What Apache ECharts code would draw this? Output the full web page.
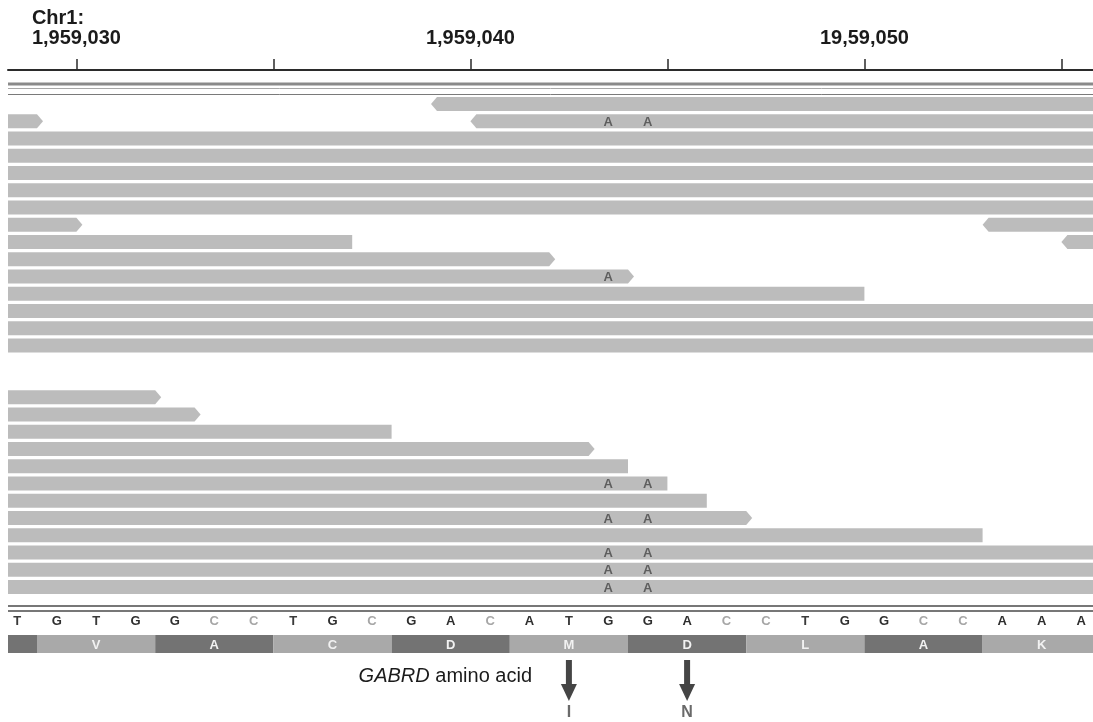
<!DOCTYPE html>
<html><head><meta charset="utf-8">
<script src="https://cdn.jsdelivr.net/npm/echarts@6/dist/echarts.min.js"></script>
<style>html,body{margin:0;padding:0;background:#fff}#c{width:1093px;height:722px}</style>
</head><body><div id="c"></div>
<script>
// ---------------- data ----------------
const chromName = 'Chr1:';
const tickPositions  = [1959030, 1959035, 1959040, 1959045, 1959050, 1959055];
const labelPositions = [1959030, 1959040, 1959050];
const tickLabels     = ['1,959,030', '1,959,040', '19,59,050'];

// aligned reads: row, start, end (genomic), strand ('+' fwd arrow, '-' rev arrow, '.' no visible end arrow)
const readRow    = [1, 2, 2, 3, 4, 5, 6, 7, 8, 8, 9, 9, 10, 11, 12, 13, 14, 15,
                    18, 19, 20, 21, 22, 23, 24, 25, 26, 27, 28, 29];
const readStart  = [1959039, 1959028, 1959040, 1959028, 1959028, 1959028, 1959028, 1959028,
                    1959028, 1959053, 1959028, 1959055, 1959028, 1959028, 1959028, 1959028, 1959028, 1959028,
                    1959028, 1959028, 1959028, 1959028, 1959028, 1959028, 1959028, 1959028, 1959028, 1959028, 1959028, 1959028];
const readEnd    = [1959056, 1959029, 1959056, 1959056, 1959056, 1959056, 1959056, 1959056,
                    1959030, 1959056, 1959037, 1959056, 1959042, 1959044, 1959050, 1959056, 1959056, 1959056,
                    1959032, 1959033, 1959038, 1959043, 1959044, 1959045, 1959046, 1959047, 1959053, 1959056, 1959056, 1959056];
const readStrand = ['-', '+', '-', '.', '.', '.', '.', '.',
                    '+', '-', '.', '-', '+', '+', '.', '.', '.', '.',
                    '+', '+', '.', '+', '.', '.', '.', '+', '.', '.', '.', '.'];

// mismatched bases in reads
const mismatchRow  = [2, 2, 11, 23, 23, 25, 25, 27, 27, 28, 28, 29, 29];
const mismatchPos  = [1959043, 1959044, 1959043, 1959043, 1959044, 1959043, 1959044,
                      1959043, 1959044, 1959043, 1959044, 1959043, 1959044];
const mismatchBase = ['A', 'A', 'A', 'A', 'A', 'A', 'A', 'A', 'A', 'A', 'A', 'A', 'A'];

// reference sequence
const refStart = 1959028;
const refBases = ['T','G','T','G','G','C','C','T','G','C','G','A','C','A','T','G','G','A','C','C','T','G','G','C','C','A','A','A'];

// translated codons (3 bp each)
const codonStart = 1959026;
const aminoAcids = ['', 'V', 'A', 'C', 'D', 'M', 'D', 'L', 'A', 'K'];

// amino-acid changes
const aaChangePos = [1959042.5, 1959045.5];
const aaChangeTo  = ['I', 'N'];
const geneLabel = 'GABRD';

// ---------------- layout / style ----------------
const X_MIN = 1959028.264, X_MAX = 1959055.802;
const READ_H = 14, READ_COLOR = '#bcbcbc', ARROW = 6;
const FONT = '"Liberation Sans", Arial, Helvetica, sans-serif';

const chart = echarts.init(document.getElementById('c'), null, {renderer: 'canvas'});

function renderRead(params, api) {
  const i = params.dataIndex;
  const strand = readStrand[i];
  const row = api.value(2);
  const p0 = api.coord([api.value(0), row]);
  const p1 = api.coord([api.value(1), row]);
  const cs = params.coordSys;
  const L = cs.x, R = cs.x + cs.width;
  const y = p0[1], t = y - READ_H / 2, b = y + READ_H / 2;
  const x0 = p0[0], x1 = p1[0];
  const pts = [];
  const leftArrow = strand === '-' && x0 >= L;
  const rightArrow = strand === '+' && x1 + ARROW <= R;
  if (leftArrow) { pts.push([x0, y], [x0 + ARROW, t]); } else { pts.push([Math.max(x0, L), t]); }
  if (rightArrow) { pts.push([x1, t], [x1 + ARROW, y], [x1, b]); }
  else { pts.push([Math.min(x1, R), t], [Math.min(x1, R), b]); }
  pts.push([leftArrow ? x0 + ARROW : Math.max(x0, L), b]);
  return {type: 'polygon', shape: {points: pts}, style: {fill: READ_COLOR}};
}

const BASE_COLOR = {A: '#2e2e2e', G: '#2e2e2e', T: '#3a3a3a', C: '#a6a6a6'};

const option = {
  animation: false,
  backgroundColor: '#ffffff',
  grid: [
    {left: 8, right: 0, top: 70, height: 534},
    {left: 8, right: 0, top: 604, height: 118}
  ],
  xAxis: [
    {
      gridIndex: 0, type: 'value', position: 'top', min: X_MIN, max: X_MAX,
      axisLine: {show: true, onZero: false, lineStyle: {color: '#2b2b2b', width: 2}},
      axisTick: {show: true, customValues: tickPositions, length: 11, lineStyle: {color: '#2b2b2b', width: 1.5}},
      axisLabel: {
        show: true, customValues: labelPositions, margin: 22,
        formatter: function (v) {
          const k = labelPositions.indexOf(Math.round(v));
          return k === 0 ? '{c|' + chromName + '}\n' + tickLabels[k] : tickLabels[k];
        },
        color: '#1b1b1b', fontSize: 20, fontWeight: 'bold', fontFamily: FONT, lineHeight: 20,
        rich: {c: {align: 'left', color: '#1b1b1b', fontSize: 20, fontWeight: 'bold', fontFamily: FONT, lineHeight: 20}}
      },
      splitLine: {show: false}
    },
    {gridIndex: 1, type: 'value', min: X_MIN, max: X_MAX, show: false}
  ],
  yAxis: [
    {gridIndex: 0, type: 'value', inverse: true, min: -0.971, max: 29.986, show: false},
    {gridIndex: 1, type: 'value', inverse: true, min: 0, max: 118, show: false}
  ],
  graphic: [
    {type: 'rect', shape: {x: 8, y: 82.5, width: 1085, height: 3}, style: {fill: '#8a8a8a'}, silent: true},
    {type: 'line', shape: {x1: 8, y1: 88.5, x2: 1093, y2: 88.5}, style: {stroke: '#a8a8a8', lineWidth: 1}, silent: true},
    {type: 'line', shape: {x1: 8, y1: 94.5, x2: 1093, y2: 94.5}, style: {stroke: '#7a7a7a', lineWidth: 1}, silent: true},
    {type: 'line', shape: {x1: 8, y1: 606, x2: 1093, y2: 606}, style: {stroke: '#4a4a4a', lineWidth: 1.5}, silent: true},
    {type: 'line', shape: {x1: 8, y1: 611, x2: 1093, y2: 611}, style: {stroke: '#4a4a4a', lineWidth: 1.5}, silent: true},
    {type: 'text', x: 532, y: 676, silent: true,
     style: {text: '{i|' + geneLabel + '} amino acid', align: 'right', verticalAlign: 'middle',
             fill: '#1b1b1b', font: '20px ' + FONT,
             rich: {i: {fontStyle: 'italic', fontSize: 20, fontFamily: FONT, fill: '#1b1b1b'}}}}
  ],
  series: [
    {
      type: 'custom', xAxisIndex: 0, yAxisIndex: 0, silent: true,
      data: readRow.map((r, i) => [readStart[i], readEnd[i], r]),
      encode: {x: [0, 1], y: 2},
      renderItem: renderRead
    },
    {
      type: 'custom', xAxisIndex: 0, yAxisIndex: 0, silent: true,
      data: mismatchRow.map((r, i) => [mismatchPos[i] + 0.5, r]),
      encode: {x: 0, y: 1},
      renderItem: function (params, api) {
        const p = api.coord([api.value(0), api.value(1)]);
        return {type: 'text', x: p[0], y: p[1] + 1,
          style: {text: mismatchBase[params.dataIndex], fill: '#5e5e5e', font: 'bold 13px ' + FONT,
                  align: 'center', verticalAlign: 'middle'}};
      }
    },
    {
      type: 'custom', xAxisIndex: 1, yAxisIndex: 1, silent: true,
      data: refBases.map((b, i) => [refStart + i + 0.5, 17]),
      encode: {x: 0, y: 1},
      renderItem: function (params, api) {
        const p = api.coord([api.value(0), api.value(1)]);
        const b = refBases[params.dataIndex];
        return {type: 'text', x: p[0], y: p[1],
          style: {text: b, fill: BASE_COLOR[b], font: 'bold 13px ' + FONT, align: 'center', verticalAlign: 'middle'}};
      }
    },
    {
      type: 'custom', xAxisIndex: 1, yAxisIndex: 1, silent: true,
      data: aminoAcids.map((a, i) => [codonStart + 3 * i, codonStart + 3 * i + 3]),
      encode: {x: [0, 1]},
      renderItem: function (params, api) {
        const i = params.dataIndex;
        const p0 = api.coord([api.value(0), 31]);
        const p1 = api.coord([api.value(1), 49]);
        const cs = params.coordSys;
        const rect = echarts.graphic.clipRectByRect(
          {x: p0[0], y: p0[1], width: p1[0] - p0[0], height: p1[1] - p0[1]},
          {x: cs.x, y: cs.y, width: cs.width, height: cs.height});
        const children = [];
        if (rect) children.push({type: 'rect', shape: rect, style: {fill: i % 2 === 0 ? '#737373' : '#a9a9a9'}});
        if (aminoAcids[i]) {
          children.push({type: 'text', x: (p0[0] + p1[0]) / 2, y: (p0[1] + p1[1]) / 2 + 1,
            style: {text: aminoAcids[i], fill: '#f2f2f2', font: 'bold 13px ' + FONT, align: 'center', verticalAlign: 'middle'}});
        }
        return {type: 'group', children: children};
      }
    },
    {
      type: 'custom', xAxisIndex: 1, yAxisIndex: 1, silent: true,
      data: aaChangePos.map(p => [p, 56]),
      encode: {x: 0, y: 1},
      renderItem: function (params, api) {
        const top = api.coord([api.value(0), 56]);
        const mid = api.coord([api.value(0), 80]);
        const bot = api.coord([api.value(0), 97]);
        const lab = api.coord([api.value(0), 109]);
        const x = top[0];
        return {type: 'group', children: [
          {type: 'rect', shape: {x: x - 3, y: top[1], width: 6, height: mid[1] - top[1] + 1}, style: {fill: '#454545'}},
          {type: 'polygon', shape: {points: [[x - 8, mid[1]], [x + 8, mid[1]], [x, bot[1]]]}, style: {fill: '#454545'}},
          {type: 'text', x: x, y: lab[1],
           style: {text: aaChangeTo[params.dataIndex], fill: '#6a6a6a', font: 'bold 16px ' + FONT, align: 'center', verticalAlign: 'middle'}}
        ]};
      }
    }
  ]
};
chart.setOption(option);
</script>
</body></html>
